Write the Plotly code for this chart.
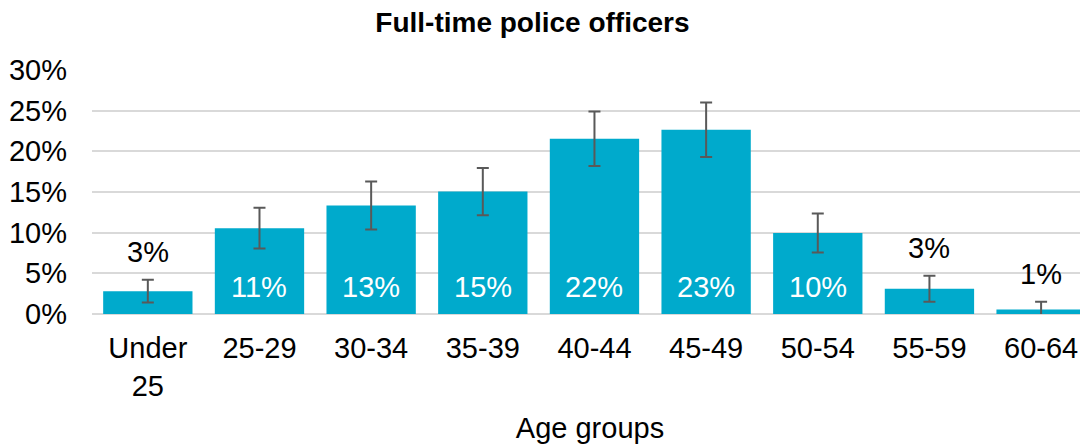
import plotly.graph_objects as go

categories = ["Under<br>25", "25-29", "30-34", "35-39", "40-44", "45-49", "50-54", "55-59", "60-64"]
values = [2.8, 10.55, 13.35, 15.05, 21.55, 22.65, 9.95, 3.1, 0.55]
errors = [1.4, 2.5, 2.95, 2.9, 3.35, 3.35, 2.4, 1.6, 0.95]
labels = ["3%", "11%", "13%", "15%", "22%", "23%", "10%", "3%", "1%"]
label_inside = [False, True, True, True, True, True, True, False, False]

BAR = "#00AACC"
FONT = "Liberation Sans, Arial, sans-serif"
FS = 29

fig = go.Figure()
fig.add_trace(go.Bar(
    x=categories, y=values,
    marker=dict(color=BAR, line=dict(width=0)),
    error_y=dict(type="data", array=errors, visible=True, color="#595959", thickness=2, width=6),
    hoverinfo="skip",
))

for c, v, e, lab, inside in zip(categories, values, errors, labels, label_inside):
    if inside:
        fig.add_annotation(x=c, y=0, text=lab, showarrow=False, yanchor="middle", yshift=27,
                           font=dict(family=FONT, size=FS, color="white"))
    else:
        fig.add_annotation(x=c, y=v + e, text=lab, showarrow=False, yanchor="bottom", yshift=10,
                           font=dict(family=FONT, size=FS, color="black"))

fig.update_layout(
    width=1080, height=436,
    margin=dict(l=84, r=0, t=62, b=130),
    paper_bgcolor="white", plot_bgcolor="white",
    bargap=0.2,
    showlegend=False,
    font=dict(family=FONT, size=FS, color="black"),
    title=dict(text="<b>Full-time police officers</b>", xref="container", x=0.4856, xanchor="center",
               yref="container", y=1.0, yanchor="top", pad=dict(t=4),
               font=dict(family=FONT, size=28, color="black")),
)
fig.update_xaxes(range=[-0.5, 8.42], showgrid=False, showline=False, ticks="", automargin=False,
                 tickfont=dict(family=FONT, size=FS), ticklabelstandoff=14,
                 title=dict(text="Age groups", font=dict(family=FONT, size=FS), standoff=17))
fig.update_yaxes(range=[0, 30], dtick=5, ticksuffix="%", showgrid=True, gridcolor="#D9D9D9", gridwidth=1.5,
                 zeroline=True, zerolinecolor="#D9D9D9", zerolinewidth=1.5, showline=False, ticks="",
                 automargin=False, tickfont=dict(family=FONT, size=FS), ticklabelstandoff=24)

fig.write_html("out.html")
